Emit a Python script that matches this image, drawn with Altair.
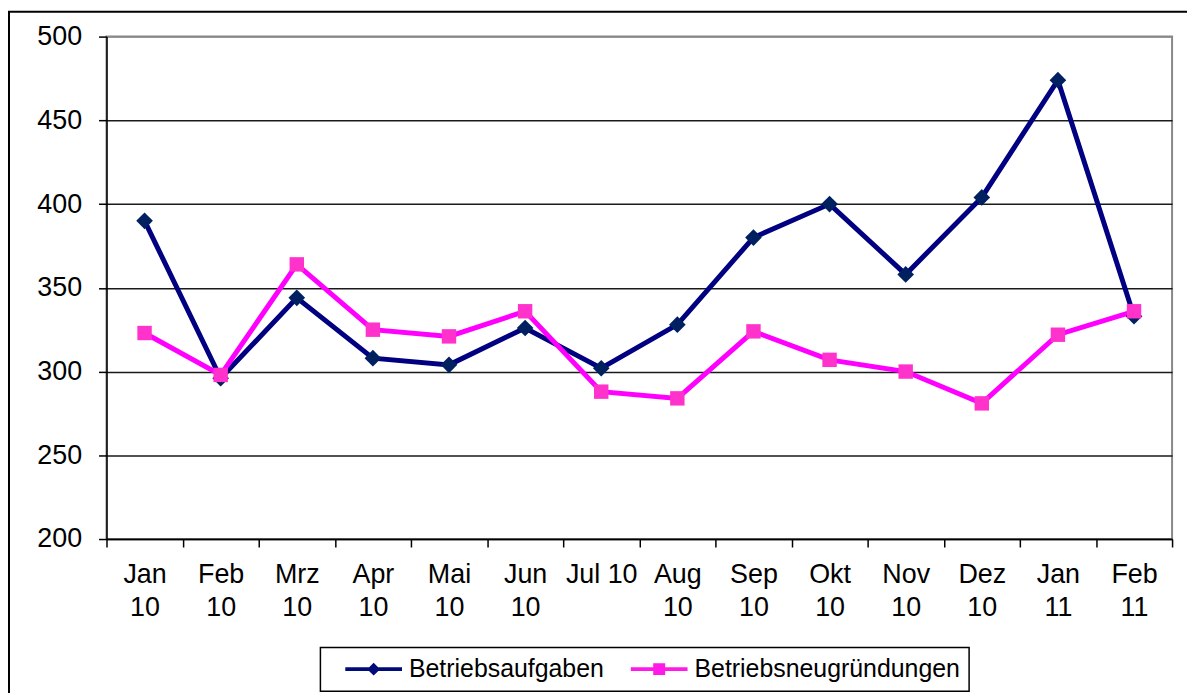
import altair as alt
import pandas as pd

months = ["Jan 10", "Feb 10", "Mrz 10", "Apr 10", "Mai 10", "Jun 10", "Jul 10",
          "Aug 10", "Sep 10", "Okt 10", "Nov 10", "Dez 10", "Jan 11", "Feb 11"]
aufgaben = [390, 296, 344, 308, 304, 326, 302, 328, 380, 400, 358, 404, 474, 333]
neugruendungen = [323, 298, 364, 325, 321, 336, 288, 284, 324, 307, 300, 281, 322, 336]
series = ["Betriebsaufgaben", "Betriebsneugründungen"]
line_colors = ["#000080", "#ff00ff"]
marker_colors = ["#002060", "#ff33cc"]
marker_shapes = ["diamond", "square"]
marker_sizes = [280, 210]
legend_colors = ["#000a78", "#ff1ae8"]
y_ticks = [200, 250, 300, 350, 400, 450, 500]

rows = []
for m, a, n in zip(months, aufgaben, neugruendungen):
    rows.append({"Monat": m, "Serie": series[0], "Wert": a})
    rows.append({"Monat": m, "Serie": series[1], "Wert": n})
df = pd.DataFrame(rows)

FONT = "Liberation Sans"

x_enc = alt.X(
    "Monat:N", sort=months, bandPosition=0.5,
    scale=alt.Scale(type="band", paddingInner=0, paddingOuter=0),
    axis=alt.Axis(
        title=None, labelAngle=0, tickBand="extent", grid=False,
        labelExpr="isValid(datum.value) ? (datum.value == 'Jul 10' ? datum.value : split(datum.value, ' ')) : ''",
        labelFontSize=27, labelLineHeight=33, labelPadding=15, tickSize=8,
        domainColor="black", tickColor="black", domainWidth=1.5, tickWidth=1.5,
        labelColor="black", labelFont=FONT,
    ),
)
y_enc = alt.Y(
    "Wert:Q",
    scale=alt.Scale(domain=[200, 500], nice=False, zero=False),
    axis=alt.Axis(
        title=None, values=y_ticks, tickSize=8, labelPadding=17,
        labelFontSize=27, labelFont=FONT, labelColor="black",
        domainColor="black", tickColor="black", domainWidth=1.5, tickWidth=1.5,
        grid=True, gridWidth=1.5,
        gridColor={"condition": {"test": "datum.value === 500", "value": "#888888"}, "value": "#1a1a1a"},
    ),
)

base = alt.Chart(df)

layers = []
for s, lc in zip(series, line_colors):
    layers.append(
        base.transform_filter(alt.datum.Serie == s)
        .mark_line(strokeWidth=5, color=lc)
        .encode(x=x_enc, y=y_enc)
    )
for s, mc, shp, sz in zip(series, marker_colors, marker_shapes, marker_sizes):
    layers.append(
        base.transform_filter(alt.datum.Serie == s)
        .mark_point(filled=True, opacity=1, size=sz, shape=shp, color=mc)
        .encode(x=x_enc, y=y_enc)
    )

diamond_path = "M-2.85,-0.2H2.85V0.2H-2.85Z M0,-0.65L0.65,0L0,0.65L-0.65,0Z"
square_path = "M-2.85,-0.2H2.85V0.2H-2.85Z M-0.6,-0.6H0.6V0.6H-0.6Z"

# legend carrier: its own marks are parked outside the visible page
legend_layer = base.mark_point(filled=True, opacity=1, size=10).encode(
    x=alt.value(-3000), y=alt.value(-3000),
    color=alt.Color("Serie:N", scale=alt.Scale(domain=series, range=legend_colors),
                    legend=alt.Legend(title=None)),
    shape=alt.Shape("Serie:N", scale=alt.Scale(domain=series, range=[diamond_path, square_path]),
                    legend=alt.Legend(title=None)),
)
layers.append(legend_layer)

frame = alt.Chart(alt.Data(values=[{"a": 1}])).mark_rect(
    fill=None, stroke="black", strokeWidth=2
).encode(
    x=alt.value(-98), x2=alt.value(1100), y=alt.value(-25), y2=alt.value(700)
)
layers.append(frame)

chart = alt.layer(*layers).properties(
    width=1071, height=505,
    autosize=alt.AutoSizeParams(type="none"),
    padding={"left": 99, "top": 27, "right": 15, "bottom": 153},
).configure_view(
    stroke="#888888", strokeWidth=2
).configure_legend(
    orient="none", legendX=215, legendY=614, direction="horizontal",
    strokeColor="black", strokeWidth=1.5, padding=9, fillColor="white",
    labelFontSize=25, labelFont=FONT, labelColor="black", labelLimit=500,
    symbolSize=400, symbolStrokeWidth=0, symbolOpacity=1,
    symbolOffset=32, labelOffset=23, columnPadding=11,
)

chart.save("out.html", embed_options={"renderer": "svg", "actions": False})
